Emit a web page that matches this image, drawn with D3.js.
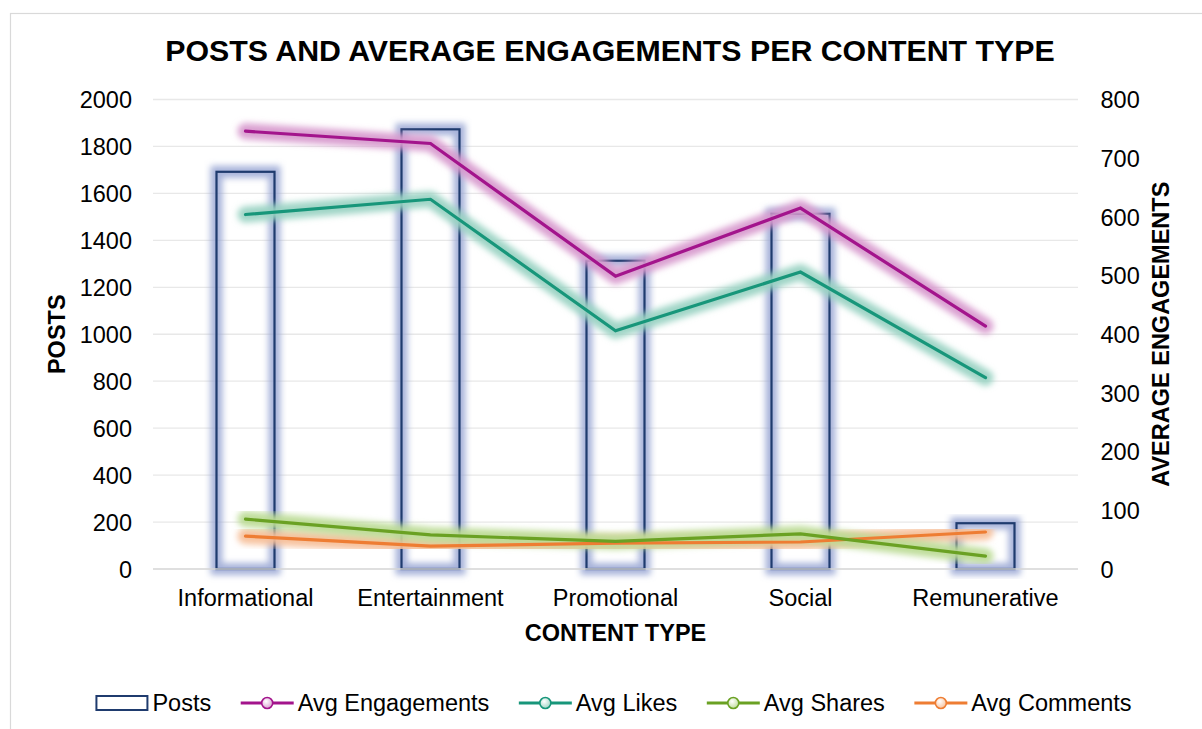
<!DOCTYPE html>
<html>
<head>
<meta charset="utf-8">
<script src="https://cdn.jsdelivr.net/npm/d3@7/dist/d3.min.js"></script>
<style>
  html, body { margin: 0; padding: 0; background: #ffffff; }
  svg { display: block; font-family: "Liberation Sans", Arial, sans-serif; }
</style>
</head>
<body>
<svg id="chart" width="1202" height="729"></svg>
<script>
// Content types on the x axis
const categories = ["Informational", "Entertainment", "Promotional", "Social", "Remunerative"];

// Number of posts per content type (left axis)
const posts = [1692, 1873, 1313, 1513, 195];

// Average engagement metrics per content type (right axis)
const avgEngagements = [746, 725, 499, 615, 414];
const avgLikes = [604, 630, 406, 506, 326];
const avgShares = [85, 58, 47, 60, 22];
const avgComments = [56, 39, 44, 46, 63];

// Tick values of the two value axes
const postTicks = [0, 200, 400, 600, 800, 1000, 1200, 1400, 1600, 1800, 2000];
const engagementTicks = [0, 100, 200, 300, 400, 500, 600, 700, 800];

const lineSeries = [
  { name: "Avg Engagements", values: avgEngagements, color: "#a3148c", light: "#d89bcf" },
  { name: "Avg Likes", values: avgLikes, color: "#17967a", light: "#9ad3c3" },
  { name: "Avg Shares", values: avgShares, color: "#6aa123", light: "#bcdb96" },
  { name: "Avg Comments", values: avgComments, color: "#ee7d33", light: "#f7bf99" }
];

const svg = d3.select("#chart");
const W = 1202, H = 729;
const plot = { left: 153, right: 1078, top: 99.5, bottom: 569 };
const FONT = 23.5;

// Soft glow used on bars and lines
const defs = svg.append("defs");
defs.append("filter").attr("id", "soft")
  .attr("x", "-20%").attr("y", "-20%").attr("width", "140%").attr("height", "140%")
  .append("feGaussianBlur").attr("stdDeviation", 3);

// Outer chart frame
svg.append("rect")
  .attr("x", 10.5).attr("y", 13.5)
  .attr("width", W + 20).attr("height", H + 20)
  .attr("fill", "#ffffff").attr("stroke", "#d9d9d9").attr("stroke-width", 1.2);

const x = d3.scaleBand().domain(categories).range([plot.left, plot.right]).padding(0);
const yLeft = d3.scaleLinear().domain([0, 2000]).range([plot.bottom, plot.top]);
const yRight = d3.scaleLinear().domain([0, 800]).range([plot.bottom, plot.top]);

// Horizontal gridlines
svg.append("g").selectAll("line")
  .data(postTicks.filter(d => d > 0))
  .join("line")
  .attr("x1", plot.left).attr("x2", plot.right)
  .attr("y1", d => yLeft(d)).attr("y2", d => yLeft(d))
  .attr("stroke", "#e8e8e8").attr("stroke-width", 1.3);

// Left axis
const leftAxis = svg.append("g")
  .attr("transform", `translate(${plot.left - 21},0)`)
  .call(d3.axisLeft(yLeft).tickValues(postTicks).tickSize(0).tickPadding(0).tickFormat(d3.format("d")));
leftAxis.select(".domain").remove();
leftAxis.selectAll("text")
  .attr("font-size", FONT).attr("fill", "#000").attr("font-family", "Liberation Sans, Arial, sans-serif")
  .attr("dy", "0.35em");

// Right axis
const rightAxis = svg.append("g")
  .attr("transform", `translate(${plot.right + 22.5},0)`)
  .call(d3.axisRight(yRight).tickValues(engagementTicks).tickSize(0).tickPadding(0).tickFormat(d3.format("d")));
rightAxis.select(".domain").remove();
rightAxis.selectAll("text")
  .attr("font-size", FONT).attr("fill", "#000").attr("font-family", "Liberation Sans, Arial, sans-serif")
  .attr("dy", "0.35em");

// Bars: posts, outlined with a soft blue glow
const barW = 58;
const bars = svg.append("g");
bars.selectAll("rect.glow")
  .data(categories)
  .join("rect")
  .attr("class", "glow")
  .attr("x", d => x(d) + x.bandwidth() / 2 - barW / 2)
  .attr("y", (d, i) => yLeft(posts[i]))
  .attr("width", barW)
  .attr("height", (d, i) => plot.bottom - yLeft(posts[i]))
  .attr("fill", "none").attr("stroke", "#98a6d4").attr("stroke-opacity", 0.85).attr("stroke-width", 12)
  .attr("filter", "url(#soft)");

// Baseline (zero gridline)
svg.append("line")
  .attr("x1", plot.left).attr("x2", plot.right)
  .attr("y1", plot.bottom).attr("y2", plot.bottom)
  .attr("stroke", "#d4d4d4").attr("stroke-width", 1.5);

bars.append("g").selectAll("rect")
  .data(categories)
  .join("rect")
  .attr("x", d => x(d) + x.bandwidth() / 2 - barW / 2)
  .attr("y", (d, i) => yLeft(posts[i]))
  .attr("width", barW)
  .attr("height", (d, i) => plot.bottom - yLeft(posts[i]))
  .attr("fill", "none").attr("stroke", "#1f3b6e").attr("stroke-width", 2.2);

// Engagement lines, each with its own glow
const line = d3.line()
  .x((d, i) => x(categories[i]) + x.bandwidth() / 2)
  .y(d => yRight(d));

const linesG = svg.append("g");
lineSeries.slice().reverse().forEach(s => {
  linesG.append("path")
    .attr("d", line(s.values))
    .attr("fill", "none").attr("stroke", s.light).attr("stroke-opacity", 0.95)
    .attr("stroke-width", 16).attr("stroke-linejoin", "round").attr("stroke-linecap", "round")
    .attr("filter", "url(#soft)");
});
lineSeries.slice().reverse().forEach(s => {
  linesG.append("path")
    .attr("d", line(s.values))
    .attr("fill", "none").attr("stroke", s.color)
    .attr("stroke-width", 3.2).attr("stroke-linejoin", "miter").attr("stroke-linecap", "round");
});

// Category labels
const xAxis = svg.append("g")
  .attr("transform", `translate(0,${plot.bottom})`)
  .call(d3.axisBottom(x).tickSize(0).tickPadding(0));
xAxis.select(".domain").remove();
xAxis.selectAll("text")
  .attr("font-size", FONT).attr("fill", "#000").attr("font-family", "Liberation Sans, Arial, sans-serif")
  .attr("y", 37).attr("dy", 0);

// Title
svg.append("text")
  .attr("x", 610).attr("y", 61)
  .attr("text-anchor", "middle")
  .attr("font-size", 30.3).attr("font-weight", "bold").attr("fill", "#000")
  .text("POSTS AND AVERAGE ENGAGEMENTS PER CONTENT TYPE");

// Axis titles
svg.append("text")
  .attr("x", (plot.left + plot.right) / 2).attr("y", 640.5)
  .attr("text-anchor", "middle")
  .attr("font-size", FONT).attr("font-weight", "bold").attr("fill", "#000")
  .text("CONTENT TYPE");

svg.append("text")
  .attr("transform", `translate(64.5,${(plot.top + plot.bottom) / 2}) rotate(-90)`)
  .attr("text-anchor", "middle")
  .attr("font-size", FONT).attr("font-weight", "bold").attr("fill", "#000")
  .text("POSTS");

svg.append("text")
  .attr("transform", `translate(1168.5,${(plot.top + plot.bottom) / 2}) rotate(-90)`)
  .attr("text-anchor", "middle")
  .attr("font-size", FONT).attr("font-weight", "bold").attr("fill", "#000")
  .text("AVERAGE ENGAGEMENTS");

// Legend
const legendItems = [{ name: "Posts", type: "bar" }].concat(lineSeries.map(s => Object.assign({ type: "line" }, s)));
const legend = svg.append("g");
const symW = 53, symGap = 4, itemGap = 29.5, legendCy = 703;
let cursor = 0;
const placed = [];
legendItems.forEach(item => {
  const g = legend.append("g");
  if (item.type === "bar") {
    g.append("rect")
      .attr("x", 1).attr("y", legendCy - 7).attr("width", symW - 2).attr("height", 14)
      .attr("fill", "#ffffff").attr("stroke", "#1f3b6e").attr("stroke-width", 2);
  } else {
    g.append("line")
      .attr("x1", 0).attr("x2", symW).attr("y1", legendCy).attr("y2", legendCy)
      .attr("stroke", item.color).attr("stroke-width", 3.2);
    const gid = "lg-" + item.name.replace(/\s+/g, "");
    const grad = defs.append("radialGradient").attr("id", gid).attr("cx", "40%").attr("cy", "35%").attr("r", "70%");
    grad.append("stop").attr("offset", "0%").attr("stop-color", "#ffffff");
    grad.append("stop").attr("offset", "100%").attr("stop-color", item.light);
    g.append("circle")
      .attr("cx", symW / 2).attr("cy", legendCy).attr("r", 5.5)
      .attr("fill", `url(#${gid})`).attr("stroke", item.color).attr("stroke-width", 1.6);
  }
  const t = g.append("text")
    .attr("x", symW + symGap).attr("y", legendCy + 8.4)
    .attr("font-size", FONT).attr("fill", "#000")
    .text(item.name);
  const w = symW + symGap + t.node().getComputedTextLength();
  placed.push({ g, offset: cursor });
  cursor += w + itemGap;
});
const totalW = cursor - itemGap;
const legendStart = 613.5 - totalW / 2;
placed.forEach(p => p.g.attr("transform", `translate(${legendStart + p.offset},0)`));
</script>
</body>
</html>
